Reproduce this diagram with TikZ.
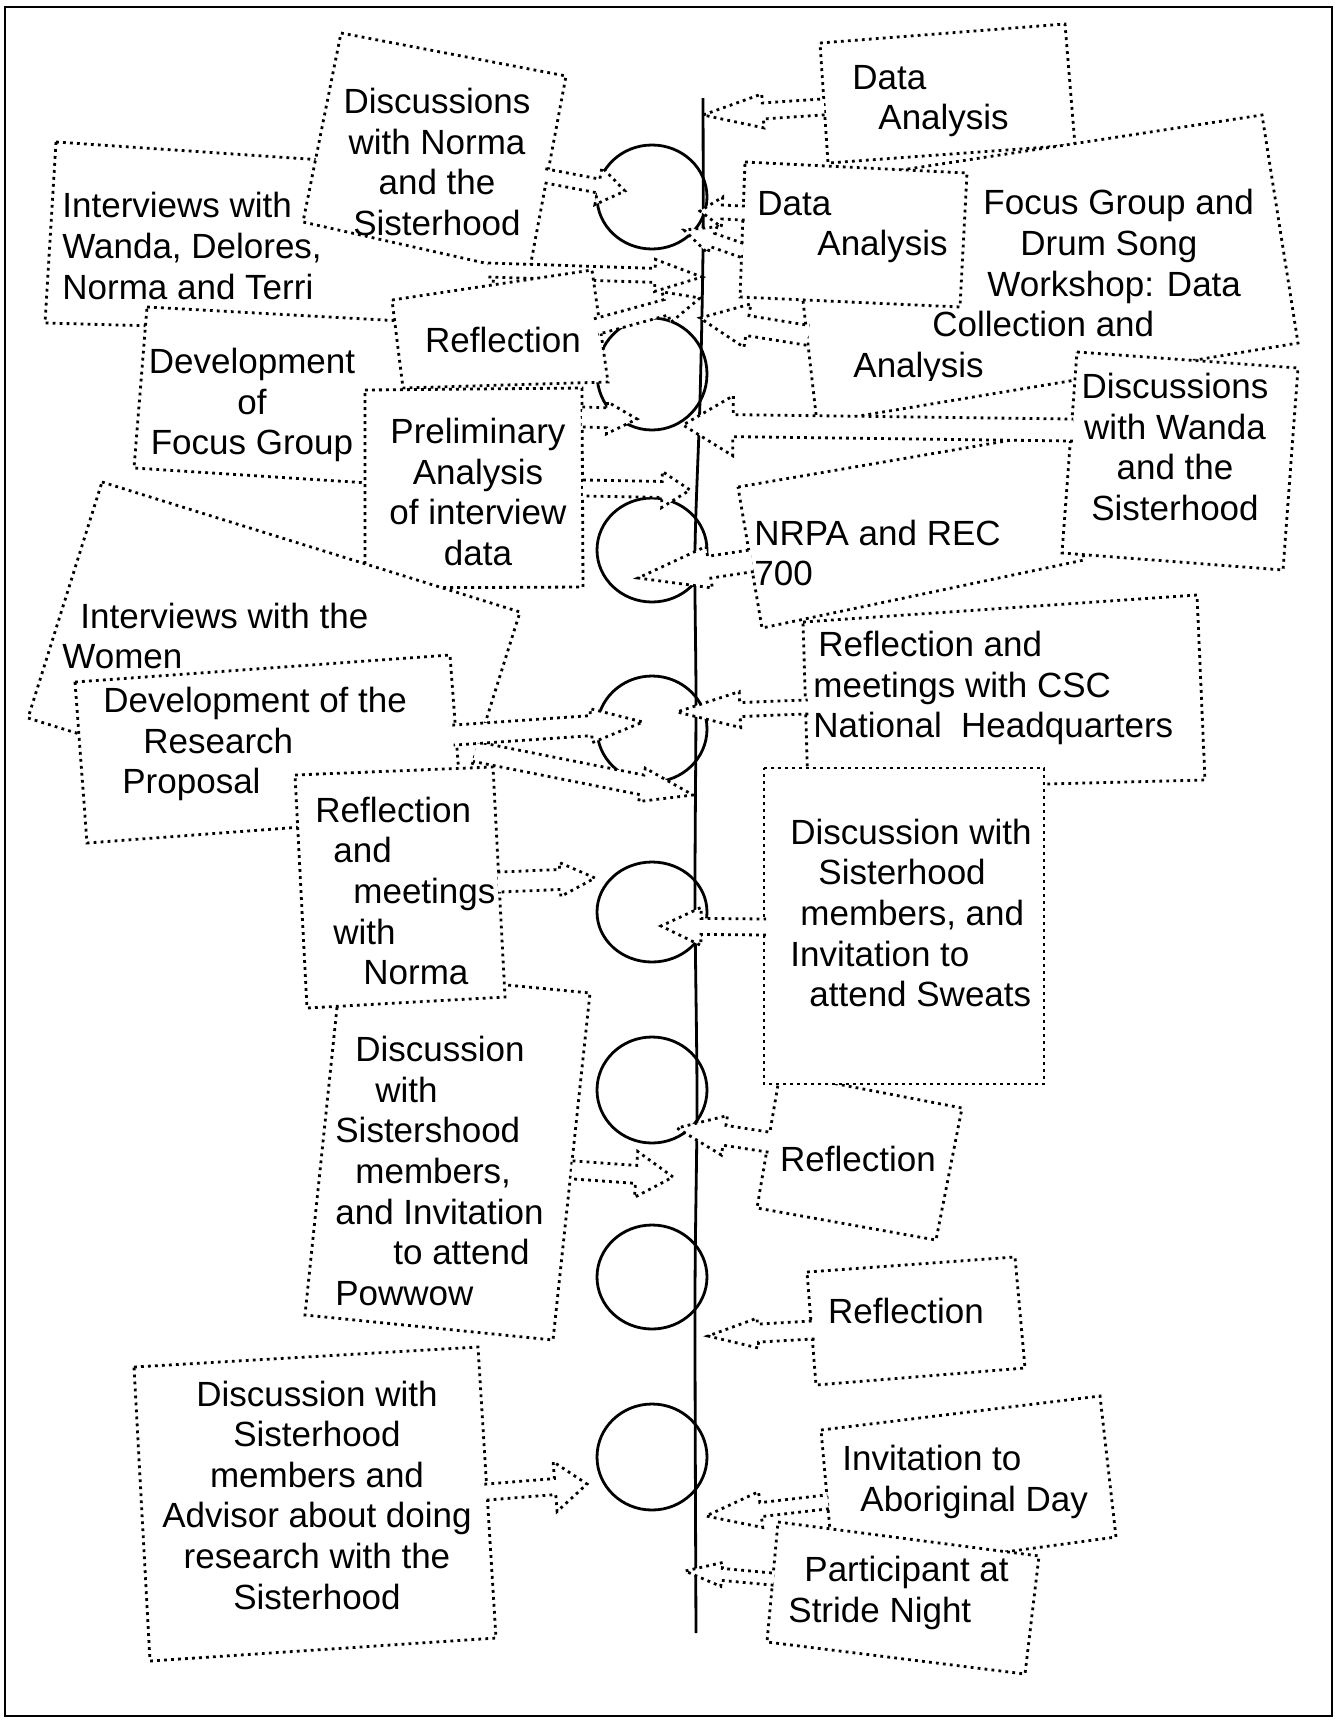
\documentclass[tikz,border=0pt]{standalone}
\usepackage{fontspec}
\setmainfont{Liberation Sans}
\usetikzlibrary{calc}

% block arrow from tail to tip: shaft half width, head half width, head length (px)
\newcommand{\blockarrow}[5]{%
  \path let \p1=($(#2)-(#1)$) in
    \pgfextra{\pgfmathparse{atan2(\y1,\x1)}\xdef\barang{\pgfmathresult}%
      \pgfmathparse{veclen(\x1,\y1)}\xdef\barlen{\pgfmathresult}};
  \draw[arrowbox, shift={(#1)}, rotate=\barang]
    (-1pt,{0.5*#3*1pt}) -- ({\barlen*1pt-0.5*#5*1pt},{0.5*#3*1pt})
    -- ({\barlen*1pt-0.5*#5*1pt},{0.5*#4*1pt}) -- ({\barlen*1pt},0pt)
    -- ({\barlen*1pt-0.5*#5*1pt},{-0.5*#4*1pt}) -- ({\barlen*1pt-0.5*#5*1pt},{-0.5*#3*1pt})
    -- (-1pt,{-0.5*#3*1pt});
}

\begin{document}
\begin{tikzpicture}[x=0.5pt,y=-0.5pt,
    box/.style={draw, fill=white, line width=1.4pt, dash pattern=on 1.4pt off 2.1pt},
    arrowbox/.style={box},
    curl/.style={line width=1.4pt},
    lbl/.style={font=\fontsize{17.5}{20.3}\selectfont, inner sep=0pt}]

    \useasboundingbox (0,0) rectangle (1336,1720);
    \draw[line width=0.8pt] (5,7) rectangle (1332,1716);

    % time line with its loops
    \draw[curl] plot[smooth] coordinates {(703,98) (703,250) (700,400) (695,550) (696,700) (695,900) (697,1100) (695,1300) (696,1633)};
    \foreach \cy/\ry in {197/52, 374/56, 550/52, 729/53, 912/50, 1090/53, 1277/52, 1457/53}
        \draw[curl] (652,\cy) ellipse [x radius=55, y radius=\ry];

    % left side
    \draw[box] (56,142) -- (500,172) -- (490,335) -- (45,323) -- cycle;
    \node[lbl, align=left, anchor=west] (iw) at (62,246) {Interviews with\\Wanda, Delores,\\Norma and Terri};
    \draw[box] (341,33) -- (566,76) -- (529,273) -- (303,222) -- cycle;
    \node[lbl, align=center] (dns) at (437,162) {Discussions\\with Norma\\and the\\Sisterhood};
    \coordinate (dnsA) at (546,176);
    \coordinate (dnsB) at (625,191);
    \blockarrow{dnsA}{dnsB}{7}{19}{27}
    \coordinate (iwA) at (490,270);
    \coordinate (iwB) at (702,277);
    \blockarrow{iwA}{iwB}{7}{16}{47}

    \draw[box] (147,307) -- (420,322) -- (400,485) -- (134,468) -- cycle;
    \node[lbl, align=center] (dfg) at (252,405) {Development\\of\\Focus Group};
    \draw[box] (392,300) -- (592,270) -- (608,382) -- (403,388) -- cycle;
    \node[lbl] (refa) at (503,340) {Reflection};
    \coordinate (refaA) at (598,326);
    \coordinate (refaB) at (700,298);
    \blockarrow{refaA}{refaB}{8}{16}{35}

    \draw[box] (365,390) -- (582,388) -- (583,587) -- (365,588) -- cycle;
    \node[lbl, align=center] (pa) at (478,492) {Preliminary\\Analysis\\of interview\\data};
    \coordinate (paA) at (584,417);
    \coordinate (paB) at (637,419);
    \blockarrow{paA}{paB}{10}{16}{30}
    \coordinate (paC) at (585,488);
    \coordinate (paD) at (690,490);
    \blockarrow{paC}{paD}{8}{18}{28}

    \draw[box] (102,482) -- (520,612) -- (446,848) -- (28,718) -- cycle;
    \node[lbl, align=left, anchor=west] (iww) at (62,636) {\hspace*{9pt}Interviews with the\\Women};
    \coordinate (iwwA) at (477,752);
    \coordinate (iwwB) at (693,795);
    \blockarrow{iwwA}{iwwB}{10}{17}{52}

    \draw[box] (75,682) -- (450,655) -- (462,815) -- (87,843) -- cycle;
    \node[lbl, align=left, anchor=west] (drp) at (103,744) {Development of the\\\hspace*{20pt}Research\\\hspace*{9.5pt}Proposal};
    \coordinate (drpA) at (455,735);
    \coordinate (drpB) at (643,722);
    \blockarrow{drpA}{drpB}{10}{17}{52}

    \draw[box] (341,969) -- (590,993) -- (553,1340) -- (305,1315) -- cycle;
    \node[lbl, align=left, anchor=west] (dsp) at (335,1171) {\hspace*{10pt}Discussion\\\hspace*{20pt}with\\Sistershood\\\hspace*{10pt}members,\\and Invitation\\\hspace*{29pt}to attend\\Powwow};
    \coordinate (dspA) at (574,1170);
    \coordinate (dspB) at (673,1177);
    \blockarrow{dspA}{dspB}{9}{23}{37}

    \draw[box] (295,775) -- (493,767) -- (505,997) -- (307,1008) -- cycle;
    \node[lbl, align=left, anchor=west] (rmn) at (315,891) {Reflection\\\hspace*{9pt}and\\\hspace*{19pt}meetings\\\hspace*{9pt}with\\\hspace*{24pt}Norma};
    \coordinate (rmnA) at (500,882);
    \coordinate (rmnB) at (595,878);
    \blockarrow{rmnA}{rmnB}{10}{17}{35}

    \draw[box] (134,1367) -- (478,1347) -- (496,1638) -- (150,1661) -- cycle;
    \node[lbl, align=center] (dsa) at (317,1495) {Discussion with\\Sisterhood\\members and\\Advisor about doing\\research with the\\Sisterhood};
    \coordinate (dsaA) at (487,1492);
    \coordinate (dsaB) at (587,1484);
    \blockarrow{dsaA}{dsaB}{8}{25}{32}

    % right side
    \draw[box] (820,43) -- (1065,24) -- (1075,145) -- (828,163) -- cycle;
    \node[lbl, align=left, anchor=west] (daa) at (852,101) {Data\\\hspace*{13pt}Analysis};
    \coordinate (daaA) at (822,107);
    \coordinate (daaB) at (703,115);
    \blockarrow{daaA}{daaB}{8}{17}{60}

    \draw[box] (790,187) -- (1262,115) -- (1298,343) -- (817,423) -- cycle;
    \begin{scope}
        \clip (780,100) rectangle (1300,380);
        \node[lbl, align=left, anchor=west] (fg) at (853,287) {\hspace*{65pt}Focus Group and\\\hspace*{83.5pt}Drum Song\\\hspace*{67pt}Workshop: Data\\\hspace*{39.5pt}Collection and\\Analysis};
    \end{scope}
    \coordinate (fgA) at (806,335);
    \coordinate (fgB) at (700,318);
    \blockarrow{fgA}{fgB}{10}{22}{48}

    \draw[box] (745,162) -- (967,173) -- (960,307) -- (740,297) -- cycle;
    \node[lbl, align=left, anchor=west] (dab) at (757,227) {Data\\\hspace*{30pt}Analysis};
    \coordinate (dabA) at (743,213);
    \coordinate (dabB) at (700,211);
    \blockarrow{dabA}{dabB}{7}{15}{22}
    \coordinate (dabC) at (741,250);
    \coordinate (dabD) at (684,230);
    \blockarrow{dabC}{dabD}{7}{14}{30}

    \draw[box] (738,487) -- (1070,430) -- (1084,560) -- (762,628) -- cycle;
    \node[lbl, align=left, anchor=west] (nrpa) at (754,553) {NRPA and REC\\700};
    \coordinate (nrpaA) at (750,561);
    \coordinate (nrpaB) at (638,578);
    \blockarrow{nrpaA}{nrpaB}{11}{21}{72}

    \draw[box] (1077,352) -- (1298,368) -- (1283,570) -- (1062,553) -- cycle;
    \node[lbl, align=center] (dws) at (1175,447) {Discussions\\with Wanda\\and the\\Sisterhood};
    \coordinate (dwsA) at (1071,430);
    \coordinate (dwsB) at (683,425);
    \blockarrow{dwsA}{dwsB}{11}{30}{50}

    \draw[box] (803,622) -- (1197,595) -- (1205,780) -- (808,790) -- cycle;
    \node[lbl, align=left, anchor=west] (rmc) at (813,688) {\hspace*{2.5pt}Reflection and\\meetings with CSC\\National\ \ Headquarters};
    \coordinate (rmcA) at (806,707);
    \coordinate (rmcB) at (677,712);
    \blockarrow{rmcA}{rmcB}{7}{18}{63}

    \draw[box] (780,1073) -- (962,1108) -- (936,1240) -- (757,1208) -- cycle;
    \node[lbl] (refb) at (858,1159) {Reflection};
    \coordinate (refbA) at (768,1142);
    \coordinate (refbB) at (677,1128);
    \blockarrow{refbA}{refbB}{10}{20}{48}

    \draw[box] (764,768) -- (1044,768) -- (1044,1084) -- (764,1084) -- cycle;
    \node[lbl, align=left, anchor=west] (dss) at (790,913) {Discussion with\\\hspace*{14pt}Sisterhood\\\hspace*{5pt}members, and\\Invitation to\\\hspace*{9.5pt}attend Sweats};
    \coordinate (dssA) at (764,927);
    \coordinate (dssB) at (661,926);
    \blockarrow{dssA}{dssB}{8}{19}{40}

    \draw[box] (807,1272) -- (1015,1257) -- (1025,1368) -- (816,1385) -- cycle;
    \node[lbl] (refc) at (906,1311) {Reflection};
    \coordinate (refcA) at (812,1330);
    \coordinate (refcB) at (708,1336);
    \blockarrow{refcA}{refcB}{9}{15}{50}

    \draw[box] (821,1430) -- (1100,1396) -- (1116,1537) -- (834,1575) -- cycle;
    \node[lbl, align=left, anchor=west] (iad) at (842,1482) {Invitation to\\\hspace*{9pt}Aboriginal Day};
    \coordinate (iadA) at (826,1502);
    \coordinate (iadB) at (706,1516);
    \blockarrow{iadA}{iadB}{7}{18}{55}

    \draw[box] (778,1522) -- (1039,1556) -- (1025,1674) -- (767,1642) -- cycle;
    \node[lbl, align=left, anchor=west] (psn) at (788,1593) {\hspace*{8pt}Participant at\\Stride Night};
    \coordinate (psnA) at (772,1579);
    \coordinate (psnB) at (685,1571);
    \blockarrow{psnA}{psnB}{6}{12}{37}
\end{tikzpicture}
\end{document}
